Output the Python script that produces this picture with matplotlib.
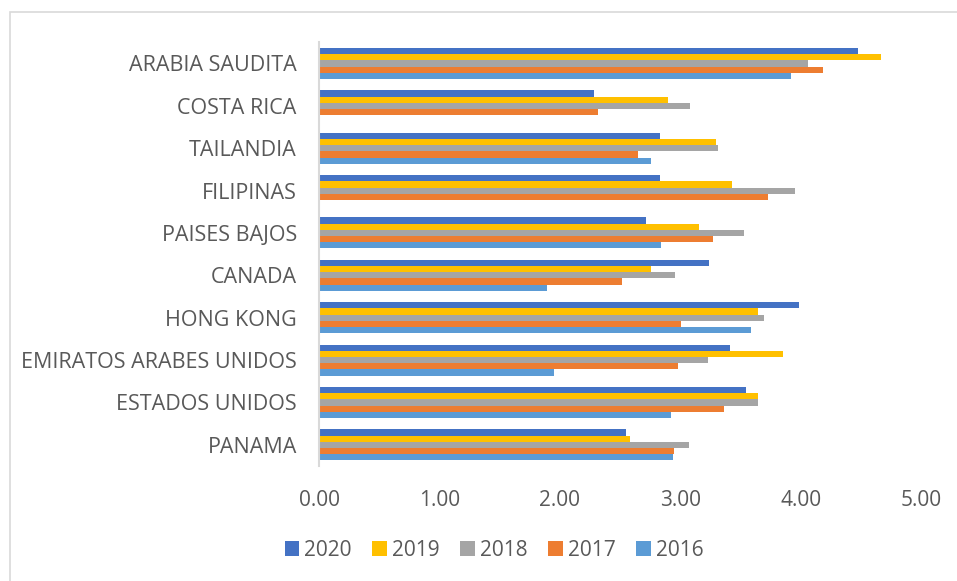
import matplotlib
matplotlib.use("Agg")
import matplotlib.pyplot as plt
import matplotlib.patches as mpatches
import numpy as np

categories = ["ARABIA SAUDITA", "COSTA RICA", "TAILANDIA", "FILIPINAS", "PAISES BAJOS",
              "CANADA", "HONG KONG", "EMIRATOS ARABES UNIDOS", "ESTADOS UNIDOS", "PANAMA"]
years = ["2020", "2019", "2018", "2017", "2016"]
v2020 = [4.48, 2.28, 2.83, 2.83, 2.72, 3.24, 3.99, 3.41, 3.55, 2.55]
v2019 = [4.67, 2.90, 3.30, 3.43, 3.16, 2.76, 3.65, 3.85, 3.65, 2.58]
v2018 = [4.06, 3.08, 3.31, 3.95, 3.53, 2.96, 3.70, 3.23, 3.65, 3.07]
v2017 = [4.19, 2.32, 2.65, 3.73, 3.27, 2.52, 3.01, 2.98, 3.36, 2.95]
v2016 = [3.92, 0.00, 2.76, 0.00, 2.84, 1.89, 3.59, 1.95, 2.92, 2.94]
series = [v2020, v2019, v2018, v2017, v2016]
colors = ["#4472C4", "#FFC000", "#A5A5A5", "#ED7D31", "#5B9BD5"]
xticks = [0, 1, 2, 3, 4, 5]
xticklabels = ["0.00", "1.00", "2.00", "3.00", "4.00", "5.00"]

plt.rcParams['font.family'] = ['Open Sans', 'DejaVu Sans']
TXT = "#595959"

W, H = 957, 581
fig = plt.figure(figsize=(W / 100, H / 100), dpi=100)
fig.patch.set_facecolor("white")

# chart area border
fig.patches.append(mpatches.Rectangle((9.5 / W, -0.1), 1.2, 1 - 12.5 / H + 0.1,
                                      transform=fig.transFigure, fill=False,
                                      edgecolor="#D9D9D9", linewidth=1.2))

left, right, top, bottom = 319, 921, 42.3, 466
ax = fig.add_axes([left / W, 1 - bottom / H, (right - left) / W, (bottom - top) / H])

n = len(categories)
y = np.arange(n)
h = 0.146
handles = []
for j, (vals, c, yr) in enumerate(zip(series, colors, years)):
    b = ax.barh(y + (j - 2) * h, vals, height=h, color=c, label=yr, linewidth=0)
    handles.append(b)

ax.set_xlim(0, 5)
ax.set_ylim(n - 0.5, -0.5)
ax.set_yticks(y)
ax.set_yticklabels(categories)
ax.set_xticks(xticks)
ax.set_xticklabels(xticklabels)
ax.tick_params(axis='y', length=0, pad=16, labelsize=15.5, labelcolor=TXT)
ax.tick_params(axis='x', length=0, pad=17, labelsize=15, labelcolor=TXT)
for s in ["top", "right", "bottom"]:
    ax.spines[s].set_visible(False)
ax.spines["left"].set_color("#D9D9D9")
ax.spines["left"].set_linewidth(1.5)
ax.set_facecolor("none")

leg = fig.legend(handles=handles, labels=years, loc="center",
                 bbox_to_anchor=(494 / W, 1 - 550 / H), ncol=5, frameon=False,
                 fontsize=15, handlelength=0.7, handleheight=0.7,
                 handletextpad=0.25, columnspacing=0.98, borderpad=0)
for t in leg.get_texts():
    t.set_color(TXT)

fig.savefig("out.png", dpi=100, facecolor="white")
